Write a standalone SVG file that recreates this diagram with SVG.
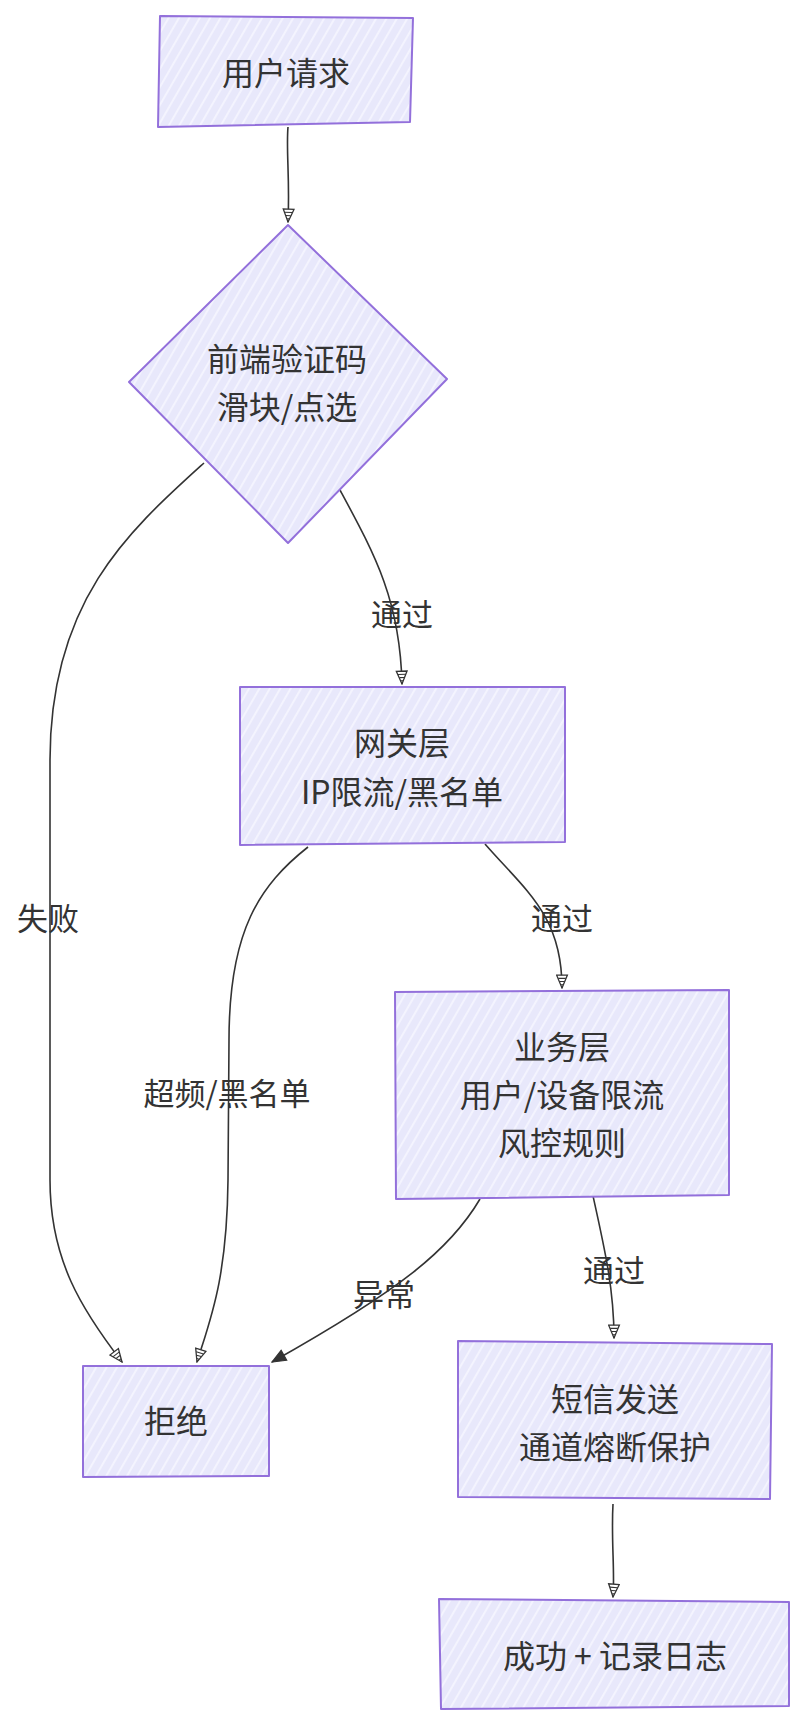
<svg xmlns="http://www.w3.org/2000/svg" width="805" height="1724" viewBox="0 0 805 1724">
<style>
.node{fill:url(#hatch);stroke:#9370DB;stroke-width:2;stroke-linejoin:round}
.t{font-family:"Noto Sans CJK SC","Noto Sans",sans-serif;font-size:32px;fill:#333;text-anchor:middle;dominant-baseline:central}
.edge{fill:none;stroke:#333;stroke-width:1.6}
.lbl{font-family:"Noto Sans CJK SC","Noto Sans",sans-serif;font-size:31px;fill:#333;text-anchor:middle;dominant-baseline:central}
</style>
<defs>
<pattern id="hatch" patternUnits="userSpaceOnUse" width="9" height="9" patternTransform="rotate(30)">
<rect width="9" height="9" fill="#E8E8FB"/>
<line x1="2" y1="0" x2="2" y2="9" stroke="#F7F7FF" stroke-width="1.6"/>
</pattern>
<marker id="ah" viewBox="0 0 14 12" refX="13" refY="6" markerWidth="15" markerHeight="13" markerUnits="userSpaceOnUse" orient="auto">
<path d="M1,1 L13,6 L1,11 Z" fill="#fff" stroke="#333" stroke-width="1.2"/>
<path d="M4,2.5 L4,9.5 M7,3.8 L7,8.2 M10,5 L10,7" stroke="#333" stroke-width="1"/>
</marker>
<marker id="ahf" viewBox="0 0 14 12" refX="13" refY="6" markerWidth="16" markerHeight="14" markerUnits="userSpaceOnUse" orient="auto">
<path d="M1,1 L13,6 L1,11 Z" fill="#333" stroke="#333" stroke-width="1"/>
</marker>
</defs>

<g id="connectors">
<path class="edge" d="M288,127 C286,150 290,180 288,222" marker-end="url(#ah)"/>
<path class="edge" d="M340,490 C375,555 400,600 402,684" marker-end="url(#ah)"/>
<path class="edge" d="M204,463 C130,530 50,600 50,760 L50,1180 C50,1260 82,1310 122,1362" marker-end="url(#ah)"/>
<path class="edge" d="M308,847 C260,885 229,930 229,1040 L228,1180 C227,1280 210,1320 197,1362" marker-end="url(#ah)"/>
<path class="edge" d="M485,844 C525,890 562,915 562,988" marker-end="url(#ah)"/>
<path class="edge" d="M480,1199 C450,1250 400,1290 272,1362" marker-end="url(#ahf)"/>
<path class="edge" d="M593,1196 C605,1250 614,1290 614,1338" marker-end="url(#ah)"/>
<path class="edge" d="M613,1504 C611,1540 615,1570 613,1597" marker-end="url(#ah)"/>
<text class="lbl" x="402" y="612">通过</text>
<text class="lbl" x="48" y="916">失败</text>
<text class="lbl" x="227" y="1091">超频/黑名单</text>
<text class="lbl" x="562" y="916">通过</text>
<text class="lbl" x="384" y="1292">异常</text>
<text class="lbl" x="614" y="1268">通过</text>
</g>

<g id="request">
<path class="node" d="M160,16 L413,18 L410,122 L158,127 Z"/>
<text class="t" x="286" y="71">用户请求</text>
</g>
<g id="captcha">
<path class="node" d="M288,225 L447,379 L288,543 L129,382 Z"/>
<text class="t" x="287" y="357">前端验证码</text>
<text class="t" x="287" y="405">滑块/点选</text>
</g>
<g id="gateway">
<path class="node" d="M240,687 L565,687 L565,842 L240,845 Z"/>
<text class="t" x="402" y="741">网关层</text>
<text class="t" x="402" y="790">IP限流/黑名单</text>
</g>
<g id="business">
<path class="node" d="M395,992 L729,990 L729,1195 L396,1199 Z"/>
<text class="t" x="562" y="1045">业务层</text>
<text class="t" x="562" y="1093">用户/设备限流</text>
<text class="t" x="562" y="1141">风控规则</text>
</g>
<g id="reject">
<path class="node" d="M83,1366 L269,1366 L269,1476 L83,1477 Z"/>
<text class="t" x="176" y="1419">拒绝</text>
</g>
<g id="sms">
<path class="node" d="M458,1341 L772,1344 L770,1499 L458,1497 Z"/>
<text class="t" x="615" y="1397">短信发送</text>
<text class="t" x="615" y="1445">通道熔断保护</text>
</g>
<g id="success">
<path class="node" d="M439,1599 L789,1602 L789,1706 L441,1709 Z"/>
<text class="t" x="615" y="1654">成功 + 记录日志</text>
</g>
</svg>
